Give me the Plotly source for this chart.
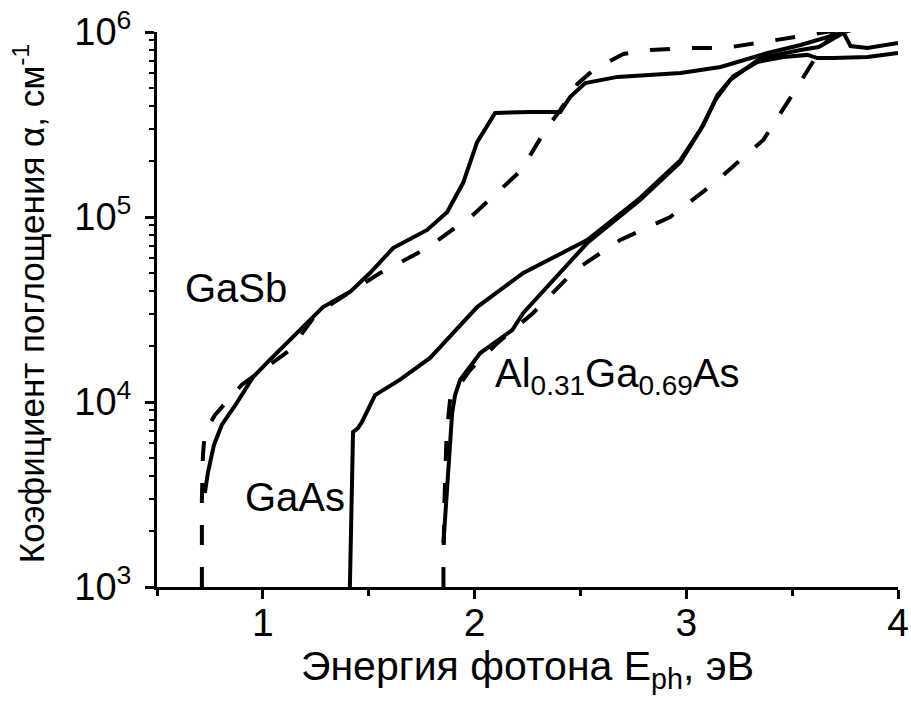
import plotly.graph_objects as go

# ---- data (energy in eV, absorption coefficient in cm^-1) ----
gasb_x = [0.726, 0.740, 0.769, 0.806, 0.877, 0.953, 1.033, 1.161, 1.284, 1.412, 1.506, 1.615,
          1.776, 1.870, 1.946, 2.012, 2.097, 2.263, 2.405, 2.452, 2.523, 2.675, 2.973, 3.162,
          3.384, 3.540, 3.696, 3.823]
gasb_y = [3.22e3, 4.13e3, 5.86e3, 7.52e3, 9.89e3, 1.36e4, 1.69e4, 2.36e4, 3.26e4, 3.94e4, 4.98e4, 6.79e4,
          8.51e4, 1.06e5, 1.53e5, 2.54e5, 3.65e5, 3.70e5, 3.70e5, 4.46e5, 5.30e5, 5.72e5, 6.00e5, 6.47e5,
          7.70e5, 8.51e5, 9.63e5, 1.06e6]

gasb_d_x = [0.712, 0.712, 0.717, 0.726, 0.774, 0.901, 1.128, 1.256, 1.554, 1.776, 1.994, 2.221,
            2.334, 2.405, 2.486, 2.561, 2.703, 2.831, 3.020, 3.185, 3.365, 3.588, 3.730]
gasb_d_y = [1.0e3, 2.95e3, 5.18e3, 6.89e3, 8.51e3, 1.24e4, 1.91e4, 3.03e4, 4.98e4, 6.79e4, 1.03e5, 1.79e5,
            2.95e5, 3.79e5, 5.24e5, 6.24e5, 7.60e5, 8.00e5, 8.20e5, 8.20e5, 8.83e5, 9.75e5, 1.03e6]

gaas_x = [1.411, 1.421, 1.426, 1.449, 1.468, 1.530, 1.648, 1.790, 2.012, 2.230, 2.532, 2.783,
          2.972, 3.081, 3.147, 3.223, 3.336, 3.459, 3.572, 3.619, 3.695, 3.856, 4.0]
gaas_y = [1.0e3, 4.29e3, 6.89e3, 7.23e3, 7.8e3, 1.09e4, 1.32e4, 1.73e4, 3.26e4, 4.98e4, 7.51e4, 1.27e5,
          2.03e5, 3.14e5, 4.56e5, 5.78e5, 6.89e5, 7.33e5, 7.52e5, 7.23e5, 7.23e5, 7.33e5, 7.70e5]

algaas_x = [1.853, 1.872, 1.885, 1.894, 1.908, 1.932, 2.027, 2.178, 2.230, 2.358, 2.532, 2.783,
            2.972, 3.066, 3.137, 3.208, 3.350, 3.540, 3.625, 3.743, 3.776, 3.856, 4.0]
algaas_y = [1.73e3, 3.47e3, 6.24e3, 8.73e3, 1.09e4, 1.32e4, 1.84e4, 2.45e4, 3.03e4, 4.40e4, 7.23e4, 1.24e5,
            1.98e5, 2.95e5, 4.28e5, 5.51e5, 7.23e5, 8.0e5, 8.3e5, 9.9e5, 8.4e5, 8.2e5, 8.73e5]

algaas_d_x = [1.853, 1.853, 1.858, 1.867, 1.877, 1.885, 1.979, 2.107, 2.277, 2.476, 2.688, 2.924,
              3.128, 3.364, 3.515, 3.633, 3.704]
algaas_d_y = [1.0e3, 1.40e3, 2.95e3, 6.24e3, 8.51e3, 1.05e4, 1.49e4, 2.08e4, 3.03e4, 5.18e4, 7.51e4, 1.0e5,
              1.51e5, 2.61e5, 4.85e5, 8.0e5, 1.03e6]

x_ticks = [1, 2, 3, 4]
x_minor = [0.5, 1.5, 2.5, 3.5]
y_ticks = [1e3, 1e4, 1e5, 1e6]
y_ticktext = ["10<sup>3</sup>", "10<sup>4</sup>", "10<sup>5</sup>", "10<sup>6</sup>"]
y_minor = [m * 10 ** e for e in (3, 4, 5) for m in range(2, 10)]

FONT = "Liberation Sans, Arial, sans-serif"
LW = 4
DASH = "20px,22px"

fig = go.Figure()
for xs, ys, dash in [(gasb_x, gasb_y, "solid"), (gasb_d_x, gasb_d_y, DASH),
                     (gaas_x, gaas_y, "solid"), (algaas_x, algaas_y, "solid"),
                     (algaas_d_x, algaas_d_y, DASH)]:
    fig.add_trace(go.Scatter(x=xs, y=ys, mode="lines",
                             line=dict(color="black", width=LW, dash=dash),
                             showlegend=False, hoverinfo="skip"))

fig.update_layout(
    width=911, height=715,
    margin=dict(l=157, r=13, t=32, b=128),
    paper_bgcolor="white", plot_bgcolor="white",
    font=dict(family=FONT, color="black"),
    showlegend=False,
)
fig.update_xaxes(range=[0.5, 4], showline=True, linewidth=3, linecolor="black",
                 showgrid=False, zeroline=False, ticks="outside", ticklen=9, tickwidth=3,
                 tickcolor="black", tickvals=x_ticks, tickfont=dict(size=39, family=FONT),
                 ticklabelstandoff=-10, ticklabeloverflow="allow", automargin=False,
                 minor=dict(tickvals=x_minor, ticks="outside", ticklen=6, tickwidth=3,
                            tickcolor="black", showgrid=False))
fig.update_yaxes(type="log", range=[3, 6], showline=True, linewidth=3, linecolor="black",
                 showgrid=False, zeroline=False, ticks="outside", ticklen=9, tickwidth=3,
                 tickcolor="black", tickvals=y_ticks, ticktext=y_ticktext,
                 tickfont=dict(size=38, family=FONT), ticklabelstandoff=6,
                 ticklabeloverflow="allow", automargin=False,
                 minor=dict(tickvals=y_minor, ticks="outside", ticklen=5, tickwidth=2,
                            tickcolor="black", showgrid=False))

ann_font = dict(size=40, family=FONT, color="black")
fig.add_annotation(text="GaSb", xref="paper", yref="paper", x=0.035, y=0.539,
                   xanchor="left", yanchor="middle", showarrow=False, font=ann_font)
fig.add_annotation(text="GaAs", xref="paper", yref="paper", x=0.116, y=0.162,
                   xanchor="left", yanchor="middle", showarrow=False, font=ann_font)
fig.add_annotation(text="Al<sub>0.31</sub>Ga<sub>0.69</sub>As", xref="paper", yref="paper",
                   x=0.4535, y=0.381, xanchor="left", yanchor="middle", showarrow=False,
                   font=ann_font)
fig.add_annotation(text="Энергия фотона E<sub>ph</sub>, эВ", xref="paper", yref="paper",
                   x=0.5, y=-0.097, xanchor="center", yanchor="top", showarrow=False,
                   font=dict(size=41, family=FONT, color="black"))
fig.add_annotation(text="Коэфициент поглощения α, см<sup>-1</sup>", xref="paper", yref="paper",
                   x=-0.14, y=0.51, xanchor="right", yanchor="middle", textangle=-90,
                   showarrow=False, font=dict(size=35, family=FONT, color="black"))

# remove the default 8px page margin so the 911x715 figure fills the window exactly
fig.write_html("out.html", config={"displayModeBar": False},
               post_script="document.body.style.margin='0';document.body.style.overflow='hidden';")
